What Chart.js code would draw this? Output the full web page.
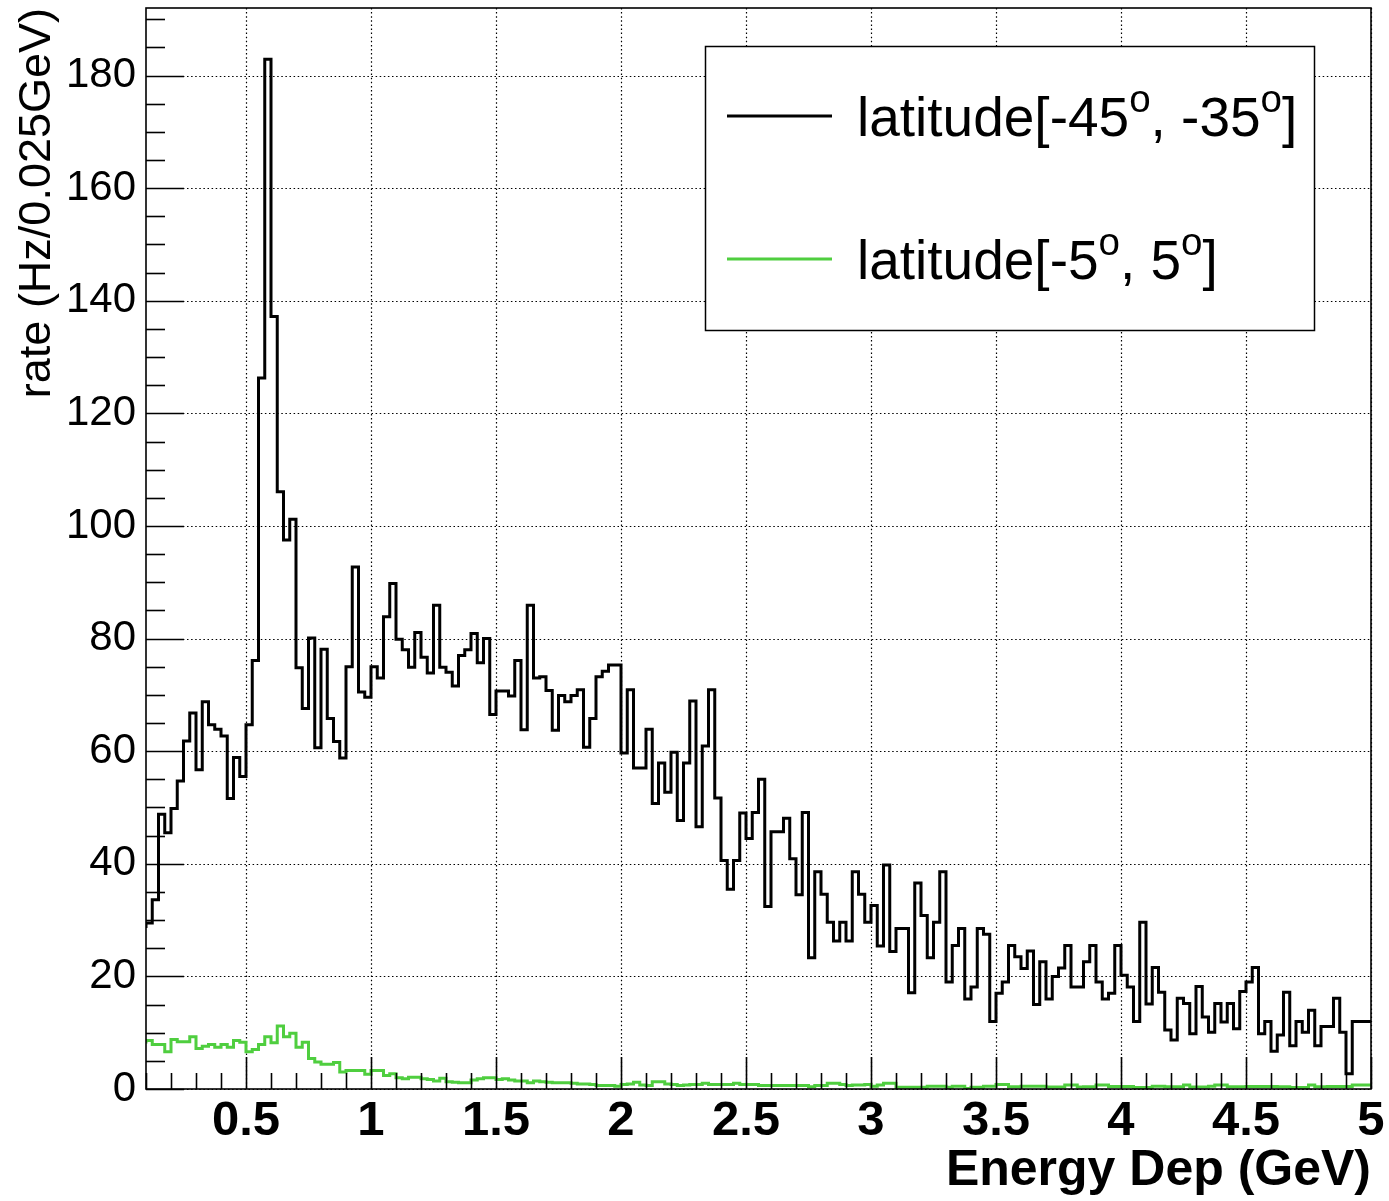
<!DOCTYPE html>
<html><head><meta charset="utf-8">
<script src="https://cdn.jsdelivr.net/npm/chart.js@4.4.0/dist/chart.umd.min.js"></script>
<style>html,body{margin:0;padding:0;background:#fff;}#wrap{width:1389px;height:1201px;}</style>
</head><body><div id="wrap"><canvas id="c" width="1389" height="1201"></canvas></div>
<script>
// ---- data ----
const binStart = 0.1;      // GeV, low edge of first bin
const binWidth = 0.025;    // GeV
const south = [ // latitude[-45, -35]
  28.6,29.5,33.6,48.8,45.5,49.8,54.7,61.8,66.8,56.7,
  68.8,64.7,63.9,62.7,51.6,58.9,55.5,64.7,76.1,126.3,
  182.9,137.2,106.1,97.5,101.2,74.8,67.6,80.1,60.6,78.1,
  65.8,61.7,58.8,75.0,92.7,70.5,69.6,75.0,73.0,83.9,
  89.8,79.9,78.0,74.9,81.1,76.7,73.9,85.9,74.9,74.0,
  71.6,77.0,78.0,80.9,75.7,80.0,66.5,70.7,70.7,69.8,
  76.1,63.8,85.9,73.0,73.2,70.8,63.7,69.9,68.8,69.9,
  70.9,60.7,65.8,73.2,74.2,75.3,75.3,59.7,70.9,57.0,
  57.0,63.9,50.7,57.9,52.7,59.8,47.7,57.9,68.9,46.6,
  60.9,70.9,51.7,40.6,35.5,40.6,49.0,44.5,49.1,55.0,
  32.4,45.7,45.7,48.1,40.9,34.5,49.1,23.3,38.6,34.6,
  29.6,26.3,29.6,26.3,38.6,34.6,29.6,32.6,25.4,39.8,
  24.4,28.5,28.5,17.1,36.6,30.8,23.3,29.6,38.6,19.0,
  25.5,28.5,16.0,18.1,28.5,27.5,12.0,17.0,19.0,25.5,
  23.5,21.4,24.5,15.0,22.6,16.0,20.0,21.5,25.5,18.1,
  18.1,22.6,25.5,19.0,16.0,17.0,25.5,20.2,18.1,12.0,
  29.6,15.1,21.6,17.2,10.5,8.7,16.1,15.2,9.8,18.2,
  12.8,10.1,15.2,11.9,15.2,10.7,17.3,19.0,21.6,9.8,
  12.0,6.7,9.6,17.2,7.7,12.0,10.1,14.0,7.7,11.1,
  11.1,16.1,10.1,2.7,12.0,12.0
];
const equator = [ // latitude[-5, 5]
  8.1,8.6,7.9,7.9,6.6,8.8,8.4,8.4,9.3,7.2,
  7.6,7.9,7.4,7.9,7.4,8.6,8.3,6.6,7.0,7.9,
  9.3,8.2,11.2,9.3,9.9,7.4,8.3,5.4,4.8,4.4,
  4.4,4.7,3.0,3.3,3.3,3.3,2.6,3.3,3.3,2.4,
  2.7,2.0,1.8,2.1,2.1,1.8,1.7,1.4,1.9,1.3,
  1.2,1.1,1.1,1.6,1.8,2.0,2.0,1.7,1.8,1.6,
  1.4,1.4,1.1,1.4,1.3,1.2,1.1,1.1,1.1,1.0,
  0.9,0.9,0.8,0.6,0.6,0.6,0.5,0.8,0.9,1.2,
  0.7,0.6,1.3,1.3,0.9,0.8,0.6,0.7,0.8,0.8,
  1.0,0.8,0.8,0.8,0.8,1.0,0.8,0.8,0.8,0.6,
  0.6,0.6,0.6,0.6,0.6,0.6,0.6,0.4,0.6,0.6,
  1.0,1.0,0.8,0.6,0.7,0.7,0.8,0.5,0.7,1.0,
  1.0,0.3,0.3,0.3,0.3,0.3,0.5,0.5,0.5,0.3,
  0.5,0.5,0.1,0.3,0.3,0.5,0.5,0.8,0.8,0.4,
  0.4,0.5,0.5,0.5,0.5,0.35,0.35,0.35,0.7,0.7,
  0.35,0.4,0.4,0.7,0.7,0.45,0.45,0.45,0.45,0.25,
  0.25,0.25,0.5,0.5,0.4,0.4,0.4,0.7,0.35,0.35,
  0.35,0.5,0.7,0.7,0.4,0.4,0.4,0.45,0.45,0.45,
  0.45,0.45,0.4,0.4,0.25,0.25,0.25,0.7,0.4,0.4,
  0.45,0.45,0.45,0.45,0.7,0.7
];
const seriesNames = ['latitude[-45^{o}, -35^{o}]', 'latitude[-5^{o}, 5^{o}]'];
const seriesColors = ['#000000', '#4fce3f'];
const xTickValues = [0.5, 1, 1.5, 2, 2.5, 3, 3.5, 4, 4.5, 5];
const xTickLabels = ['0.5', '1', '1.5', '2', '2.5', '3', '3.5', '4', '4.5', '5'];
const yTickValues = [0, 20, 40, 60, 80, 100, 120, 140, 160, 180];
const yTickLabels = ['0', '20', '40', '60', '80', '100', '120', '140', '160', '180'];
const xMin = 0.1, xMax = 5, yMin = 0, yMax = 192;
const xMinorStep = 0.1, yMinorStep = 5;
const xTitle = 'Energy Dep (GeV)';
const yTitle = 'rate (Hz/0.025GeV)';

// ---- build ----
const FONT = "'Liberation Sans', Arial, Helvetica, sans-serif";
const edges = Array.from({length: south.length + 1}, (_, i) => +(binStart + i * binWidth).toFixed(4));
function histPoints(vals) {
  const pts = vals.map((v, i) => ({x: edges[i], y: v}));
  pts.push({x: edges[vals.length], y: vals[vals.length - 1]});
  return pts;
}

const framePlugin = {
  id: 'rootFrame',
  beforeDatasetsDraw(chart) {
    const {ctx, chartArea: a, scales: {x, y}} = chart;
    ctx.save();
    ctx.strokeStyle = '#000';
    ctx.lineWidth = 1.2;
    ctx.setLineDash([1.5, 2.6]);
    xTickValues.forEach(v => {
      const px = Math.round(x.getPixelForValue(v)) + 0.5;
      ctx.beginPath(); ctx.moveTo(px, a.top); ctx.lineTo(px, a.bottom); ctx.stroke();
    });
    yTickValues.forEach(v => {
      const py = Math.round(y.getPixelForValue(v)) + 0.5;
      ctx.beginPath(); ctx.moveTo(a.left, py); ctx.lineTo(a.right, py); ctx.stroke();
    });
    ctx.restore();
  },
  afterDatasetsDraw(chart) {
    const {ctx, chartArea: a, scales: {x, y}} = chart;
    ctx.save();
    ctx.strokeStyle = '#000';
    ctx.lineWidth = 1.6;
    ctx.setLineDash([]);
    const nX = Math.round((xMax - xMin) / xMinorStep);
    for (let i = 0; i <= nX; i++) {
      const v = +(xMin + i * xMinorStep).toFixed(4);
      const major = xTickValues.some(t => Math.abs(t - v) < 1e-6);
      const px = Math.round(x.getPixelForValue(v)) + 0.5;
      ctx.beginPath(); ctx.moveTo(px, a.bottom); ctx.lineTo(px, a.bottom - (major ? 32 : 16)); ctx.stroke();
    }
    const nY = Math.floor((yMax - yMin) / yMinorStep);
    for (let i = 0; i <= nY; i++) {
      const v = yMin + i * yMinorStep;
      const major = yTickValues.includes(v);
      const py = Math.round(y.getPixelForValue(v)) + 0.5;
      ctx.beginPath(); ctx.moveTo(a.left, py); ctx.lineTo(a.left + (major ? 38 : 19), py); ctx.stroke();
    }
    ctx.strokeRect(a.left, a.top, a.right - a.left, a.bottom - a.top);
    ctx.restore();
  }
};

function drawRich(ctx, text, x0, yBase, size) {
  const parts = text.split(/\^\{(.*?)\}/);
  let xx = x0;
  parts.forEach((p, i) => {
    if (!p) return;
    const sup = i % 2 === 1;
    const s = sup ? size * 0.7 : size;
    ctx.font = `${s}px ${FONT}`;
    ctx.fillText(p, xx, sup ? yBase - size * 0.44 : yBase);
    xx += ctx.measureText(p).width;
  });
}

const legendPlugin = {
  id: 'rootLegend',
  afterDraw(chart) {
    const {ctx} = chart;
    const box = {x: 705, y: 46, w: 609, h: 284};
    ctx.save();
    ctx.fillStyle = '#fff';
    ctx.fillRect(box.x, box.y, box.w, box.h);
    ctx.strokeStyle = '#000';
    ctx.lineWidth = 1.5;
    ctx.strokeRect(box.x + 0.5, box.y + 0.5, box.w, box.h);
    const rows = [116, 259];
    chart.data.datasets.forEach((ds, i) => {
      const cy = rows[i];
      ctx.strokeStyle = ds.borderColor;
      ctx.lineWidth = 3;
      ctx.beginPath(); ctx.moveTo(727, cy); ctx.lineTo(832, cy); ctx.stroke();
      ctx.fillStyle = '#000';
      ctx.textBaseline = 'alphabetic';
      ctx.textAlign = 'left';
      drawRich(ctx, ds.label, 857, cy + 20, 55);
    });
    ctx.restore();
  }
};

new Chart(document.getElementById('c'), {
  type: 'line',
  data: {
    datasets: [
      {label: seriesNames[0], data: histPoints(south), borderColor: seriesColors[0], borderWidth: 3,
       stepped: 'after', pointRadius: 0, fill: false, order: 2, borderJoinStyle: 'miter'},
      {label: seriesNames[1], data: histPoints(equator), borderColor: seriesColors[1], borderWidth: 3,
       stepped: 'after', pointRadius: 0, fill: false, order: 1, borderJoinStyle: 'miter'}
    ]
  },
  options: {
    responsive: false,
    animation: false,
    devicePixelRatio: 1,
    parsing: false,
    layout: {padding: {left: 0, right: 18, top: 8, bottom: 0}},
    plugins: {legend: {display: false}, tooltip: {enabled: false}},
    scales: {
      x: {
        type: 'linear', min: xMin, max: xMax,
        afterBuildTicks: s => { s.ticks = xTickValues.map(v => ({value: v})); },
        afterFit: s => { s.height = 112; s.paddingLeft = 0; s.paddingRight = 0; },
        grid: {display: false, drawTicks: false},
        border: {display: false},
        ticks: {autoSkip: false, maxRotation: 0, padding: 3, color: '#000',
                font: {family: FONT, size: 49, weight: 'bold'},
                callback: (v, i) => xTickLabels[i]},
        title: {display: true, text: xTitle, align: 'end', color: '#000',
                font: {family: FONT, size: 50, weight: 'bold'}, padding: {top: 0, bottom: 0}}
      },
      y: {
        type: 'linear', min: yMin, max: yMax,
        afterBuildTicks: s => { s.ticks = yTickValues.map(v => ({value: v})); },
        afterFit: s => { s.width = 146; s.paddingTop = 0; s.paddingBottom = 0; },
        grid: {display: false, drawTicks: false},
        border: {display: false},
        ticks: {autoSkip: false, padding: 10, color: '#000',
                font: {family: FONT, size: 42},
                callback: (v, i) => yTickLabels[i]},
        title: {display: true, text: yTitle, align: 'end', color: '#000',
                font: {family: FONT, size: 45}, padding: {top: 11, bottom: 0}}
      }
    }
  },
  plugins: [framePlugin, legendPlugin]
});
</script>
</body></html>
